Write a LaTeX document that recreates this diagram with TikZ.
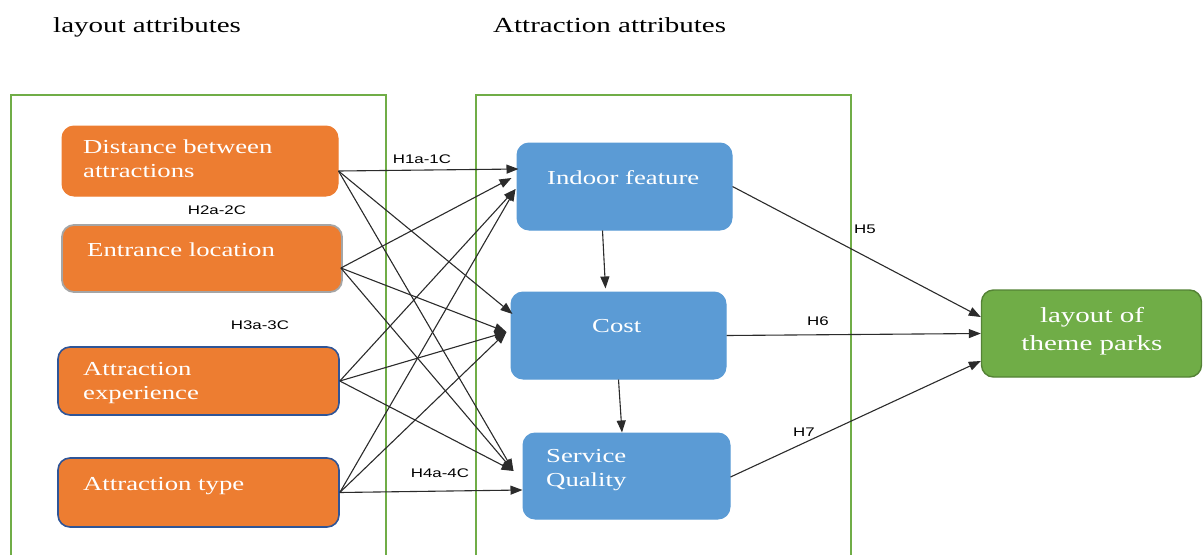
\documentclass[tikz,border=0pt]{standalone}
\usepackage{fontspec}
\setmainfont{Liberation Serif}[FakeStretch=1.35]
\newfontfamily\hypfont{Liberation Sans}[FakeStretch=1.35]
\usetikzlibrary{arrows.meta}

\definecolor{frameGreen}{HTML}{70AD47}
\definecolor{boxOrange}{HTML}{ED7D31}
\definecolor{boxBlue}{HTML}{5B9BD5}
\definecolor{boxGreen}{HTML}{70AD47}
\definecolor{boxGreenEdge}{HTML}{548235}
\definecolor{edgeBlue}{HTML}{2F5597}
\definecolor{edgeGray}{HTML}{A5A5A5}
\definecolor{linkGray}{HTML}{2B2B2B}

\begin{document}
\begin{tikzpicture}[x=1pt,y=-1pt,
  frame/.style={draw=frameGreen, line width=2.5pt},
  card/.style={rounded corners=12pt, inner sep=0pt},
  obox/.style={card, fill=boxOrange, draw=boxOrange, line width=1pt},
  bbox/.style={card, fill=boxBlue, draw=boxBlue, line width=1pt},
  gbox/.style={card, fill=boxGreen, draw=boxGreenEdge, line width=1.4pt},
  cardtext/.style={text=white, inner sep=0pt, align=left,
    font=\fontsize{19.8}{23.5}\selectfont},
  heading/.style={inner sep=0pt, anchor=base west,
    font=\fontsize{21.5}{26}\selectfont},
  hyp/.style={inner sep=0pt, font=\hypfont\fontsize{12.5}{14}\selectfont},
  link/.style={draw=linkGray, line width=1.1pt,
    -{Triangle[length=12pt,width=9pt]}}
]
\useasboundingbox (0,0) rectangle (1203,555);

% group frames (open at the bottom)
\draw[frame] (11,555) -- (11,95) -- (386,95) -- (386,555);
\draw[frame] (476,555) -- (476,95) -- (851,95) -- (851,555);

% group headings
\node[heading] (hLayout) at (53,32) {layout attributes};
\node[heading] (hAttr) at (493,32) {Attraction attributes};

% layout attribute cards
\node[obox, minimum width=276pt, minimum height=70pt] (dist) at (200,161) {};
\node[obox, draw=edgeGray, line width=1.8pt, minimum width=280pt, minimum height=67pt] (ent) at (202,258.5) {};
\node[obox, draw=edgeBlue, line width=1.6pt, minimum width=281pt, minimum height=68pt] (exper) at (198.5,381) {};
\node[obox, draw=edgeBlue, line width=1.6pt, minimum width=281pt, minimum height=69pt] (atype) at (198.5,492.5) {};

% card texts (base anchor sits on the last line)
\node[cardtext, anchor=base west] (distT) at (83,177) {Distance between\\attractions};
\node[cardtext, anchor=base west] (entT) at (87,256) {Entrance location};
\node[cardtext, anchor=base west] (experT) at (83,399) {Attraction\\experience};
\node[cardtext, anchor=base west] (atypeT) at (83,490) {Attraction type};

% attraction attribute cards
\node[bbox, minimum width=215pt, minimum height=87pt] (indoor) at (624.5,186.5) {};
\node[bbox, minimum width=215pt, minimum height=87pt] (cost) at (618.5,335.5) {};
\node[bbox, minimum width=207pt, minimum height=86pt] (sq) at (626.5,476) {};

\node[cardtext, anchor=base west] (indoorT) at (547,184) {Indoor feature};
\node[cardtext, anchor=base west] (costT) at (592,332) {Cost};
\node[cardtext, anchor=base west] (sqT) at (546,486) {Service\\Quality};

% outcome card
\node[gbox, minimum width=220pt, minimum height=87pt] (park) at (1091.5,333.5) {};
\node[cardtext, align=center, anchor=base, font=\fontsize{21.5}{28}\selectfont] (parkT) at (1092,350) {layout of\\theme parks};

% connector ports
\coordinate (dOut) at ([yshift=-10pt]dist.east);
\coordinate (eOut) at ([shift={(-2pt,-9.5pt)}]ent.east);
\coordinate (xOut) at (exper.east);
\coordinate (tOut) at (atype.east);
\coordinate (iIn1) at ([shift={(2pt,17.5pt)}]indoor.west);
\coordinate (iIn2) at ([shift={(-5pt,8.5pt)}]indoor.west);
\coordinate (iIn3) at ([shift={(-1pt,-2.5pt)}]indoor.west);
\coordinate (cIn1) at ([shift={(2pt,21.5pt)}]cost.west);
\coordinate (cIn2) at ([shift={(-4pt,3.5pt)}]cost.west);
\coordinate (sIn1) at ([shift={(-9pt,5pt)}]sq.west);
\coordinate (sIn2) at ([shift={(0pt,-14pt)}]sq.west);

% layout -> attraction links
\draw[link] (dOut) -- (iIn1);
\draw[link] (dOut) -- (cIn1);
\draw[link] (dOut) -- (sIn1);
\draw[link] (eOut) -- (iIn2);
\draw[link] (eOut) -- (cIn2);
\draw[link] (eOut) -- (sIn1);
\draw[link] (xOut) -- (iIn3);
\draw[link] (xOut) -- (cIn2);
\draw[link] (xOut) -- (sIn1);
\draw[link] (tOut) -- (iIn3);
\draw[link] (tOut) -- (cIn2);
\draw[link] (tOut) -- (sIn2);

% links inside the attraction group
\draw[link] ([xshift=-22pt]indoor.south) -- ([xshift=-13pt,yshift=3pt]cost.north);
\draw[link] (cost.south) -- ([xshift=-4.5pt]sq.north);

% links to the outcome
\draw[link] (indoor.east) -- ([yshift=16.5pt]park.west);
\draw[link] (cost.east) -- (park.west);
\draw[link] ([yshift=-1pt]sq.east) -- ([yshift=-27.5pt]park.west);

% hypothesis labels
\node[hyp] (h1) at (422,159) {H1a-1C};
\node[hyp] (h2) at (217,210) {H2a-2C};
\node[hyp] (h3) at (260,325) {H3a-3C};
\node[hyp] (h4) at (440,473) {H4a-4C};
\node[hyp] (h5) at (865,229) {H5};
\node[hyp] (h6) at (818,321) {H6};
\node[hyp] (h7) at (804,432) {H7};
\end{tikzpicture}
\end{document}
